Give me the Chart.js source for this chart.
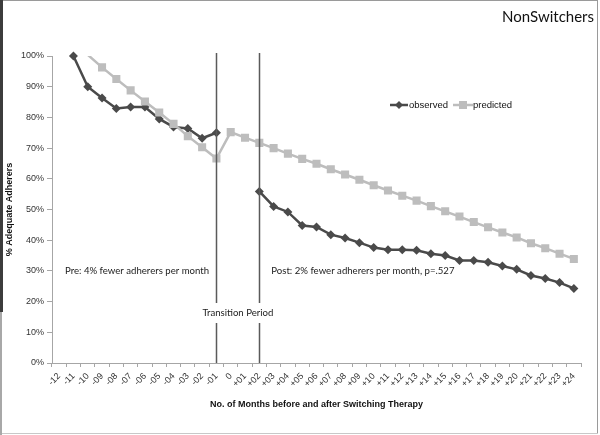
<!DOCTYPE html>
<html>
<head>
<meta charset="utf-8">
<script src="https://cdn.jsdelivr.net/npm/chart.js@4.4.1/dist/chart.umd.min.js"></script>
<style>
  html, body { margin: 0; padding: 0; background: #fff; }
  #wrap { width: 600px; height: 435px; }
</style>
</head>
<body>
<div id="wrap"><canvas id="chart" width="600" height="435"></canvas></div>
<script>
const months = ['-12', '-11', '-10', '-09', '-08', '-07', '-06', '-05', '-04', '-03', '-02', '-01', '0',
  '+01', '+02', '+03', '+04', '+05', '+06', '+07', '+08', '+09', '+10', '+11', '+12', '+13', '+14',
  '+15', '+16', '+17', '+18', '+19', '+20', '+21', '+22', '+23', '+24'];

const observed = [null, 100, 90, 86.3, 82.9, 83.4, 83.4, 79.5, 76.9, 76.4, 73.2, 75.0, null,
  null, 55.9, 51.0, 49.2, 44.8, 44.3, 41.8, 40.7, 39.2, 37.6, 36.9, 36.9, 36.7, 35.6,
  35.0, 33.4, 33.4, 32.8, 31.6, 30.5, 28.5, 27.5, 26.2, 24.3];

const predicted = [null, null, 100.4, 96.3, 92.5, 88.8, 85.2, 81.6, 77.9, 73.9, 70.3, 66.6, 75.2,
  73.4, 71.7, 70.0, 68.2, 66.5, 64.9, 63.1, 61.4, 59.7, 57.9, 56.2, 54.5, 52.9, 51.1,
  49.4, 47.7, 45.9, 44.2, 42.5, 40.9, 39.0, 37.4, 35.6, 33.9];

const yTicks = [0, 10, 20, 30, 40, 50, 60, 70, 80, 90, 100];

const darkGray = '#4a4a4a';
const lightGray = '#bdbdbd';
const axisGray = '#a6a6a6';
const noteFont = '9.6px Lato, "Open Sans", sans-serif';
const arial = 'Arial, "Liberation Sans", sans-serif';

// everything excel drew on top: legend, transition lines, notes, title, frame
const extras = {
  id: 'extras',
  afterDatasetsDraw(chart) {
    const { ctx, chartArea, scales } = chart;
    const x = scales.x, y = scales.y;
    ctx.save();

    // transition period lines with a gap for the label
    const gapTop = 303, gapBottom = 323;
    ctx.strokeStyle = '#5a5a5a';
    ctx.lineWidth = 1.5;
    [11, 14].forEach(i => {
      const px = Math.round(x.getPixelForValue(i)) + 0.5;
      ctx.beginPath();
      ctx.moveTo(px, chartArea.top - 3);
      ctx.lineTo(px, gapTop);
      ctx.moveTo(px, gapBottom);
      ctx.lineTo(px, chartArea.bottom);
      ctx.stroke();
    });

    ctx.fillStyle = '#222';
    ctx.font = noteFont;
    ctx.textBaseline = 'middle';
    ctx.textAlign = 'center';
    const midX = (x.getPixelForValue(11) + x.getPixelForValue(14)) / 2;
    ctx.fillText('Transition Period', midX, (gapTop + gapBottom) / 2);

    ctx.textAlign = 'left';
    ctx.fillText('Pre: 4% fewer adherers per month', chartArea.left + 13, y.getPixelForValue(30));
    ctx.fillText('Post: 2% fewer adherers per month, p=.527', x.getPixelForValue(14) + 12, y.getPixelForValue(30));

    // legend
    const ly = 105;
    ctx.font = '9.5px ' + arial;
    ctx.lineWidth = 2.5;
    ctx.strokeStyle = darkGray;
    ctx.beginPath(); ctx.moveTo(390, ly); ctx.lineTo(408, ly); ctx.stroke();
    ctx.fillStyle = darkGray;
    ctx.beginPath();
    ctx.moveTo(399, ly - 4); ctx.lineTo(403, ly); ctx.lineTo(399, ly + 4); ctx.lineTo(395, ly);
    ctx.closePath(); ctx.fill();
    ctx.fillStyle = '#111';
    ctx.fillText('observed', 409, ly + 0.5);

    ctx.strokeStyle = lightGray;
    ctx.beginPath(); ctx.moveTo(453, ly); ctx.lineTo(473, ly); ctx.stroke();
    ctx.fillStyle = lightGray;
    ctx.fillRect(459, ly - 4, 8, 8);
    ctx.fillStyle = '#111';
    ctx.fillText('predicted', 473, ly + 0.5);

    // title
    ctx.font = '15px Lato, "Open Sans", sans-serif';
    ctx.textAlign = 'right';
    ctx.fillStyle = '#111';
    ctx.fillText('NonSwitchers', 594, 17);

    // frame
    ctx.lineWidth = 1;
    ctx.strokeStyle = '#9a9a9a';
    ctx.beginPath(); ctx.moveTo(0, 0.5); ctx.lineTo(598, 0.5); ctx.stroke();
    ctx.beginPath(); ctx.moveTo(597.5, 0); ctx.lineTo(597.5, 434); ctx.stroke();
    ctx.strokeStyle = '#c8c8c8';
    ctx.beginPath(); ctx.moveTo(0, 433.5); ctx.lineTo(598, 433.5); ctx.stroke();
    ctx.fillStyle = '#3c3c3c';
    ctx.fillRect(0, 0, 3, 312);
    ctx.fillStyle = '#a8a8a8';
    ctx.fillRect(0, 312, 2, 123);

    ctx.restore();
  }
};

new Chart(document.getElementById('chart'), {
  type: 'line',
  data: {
    labels: months,
    datasets: [
      {
        label: 'predicted',
        data: predicted,
        order: 0,
        borderColor: lightGray,
        backgroundColor: lightGray,
        borderWidth: 2.5,
        pointStyle: 'rect',
        pointRadius: c => (c.raw > 100 ? 0 : 5.7),
        pointBorderWidth: 0,
        tension: 0,
        spanGaps: false
      },
      {
        label: 'observed',
        data: observed,
        order: 1,
        clip: false,
        borderColor: darkGray,
        backgroundColor: darkGray,
        borderWidth: 2.5,
        pointStyle: 'rectRot',
        pointRadius: 4.5,
        pointBorderWidth: 0,
        tension: 0,
        spanGaps: false
      }
    ]
  },
  options: {
    responsive: false,
    animation: false,
    layout: { padding: { top: 56, right: 19, left: 0, bottom: 0 } },
    scales: {
      x: {
        type: 'category',
        offset: true,
        grid: { offset: true, drawOnChartArea: false, drawTicks: true, tickLength: 4, color: axisGray },
        border: { display: true, color: axisGray },
        ticks: {
          autoSkip: false,
          minRotation: 45,
          maxRotation: 45,
          padding: 4,
          color: '#333',
          font: { family: arial, size: 9 }
        },
        title: {
          display: true,
          text: 'No. of Months before and after Switching Therapy',
          color: '#111',
          font: { family: arial, size: 9, weight: 'bold' },
          padding: { top: 0, bottom: 25 }
        },
        afterFit: s => { s.height = 72; }
      },
      y: {
        min: 0,
        max: 100,
        afterBuildTicks: s => { s.ticks = yTicks.map(v => ({ value: v })); },
        grid: { drawOnChartArea: false, drawTicks: true, tickLength: 5, color: axisGray },
        border: { display: true, color: axisGray },
        ticks: {
          padding: 3,
          color: '#333',
          font: { family: arial, size: 9 },
          callback: v => v + '%'
        },
        title: {
          display: true,
          text: '% Adequate Adherers',
          color: '#111',
          font: { family: arial, size: 9, weight: 'bold' },
          padding: { top: 4, bottom: 0 }
        },
        afterFit: s => { s.width = 52; }
      }
    },
    plugins: {
      legend: { display: false },
      title: { display: false },
      tooltip: { enabled: false }
    }
  },
  plugins: [extras]
});
</script>
</body>
</html>
